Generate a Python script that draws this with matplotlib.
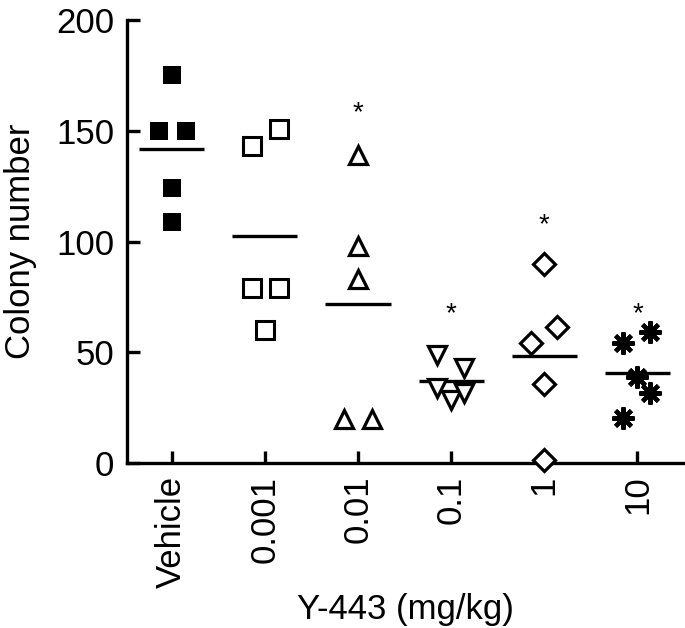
#!/usr/bin/env python3
"""Colony number vs Y-443 dose, scatter with group means."""
import matplotlib

matplotlib.use("Agg")
import matplotlib.pyplot as plt
import numpy as np

plt.rcParams["font.family"] = ["Liberation Sans", "DejaVu Sans"]

groups = ["Vehicle", "0.001", "0.01", "0.1", "1", "10"]

# per-group values and small horizontal jitter
vehicle = [175, 150, 150, 124, 109]
vehicle_dx = [0.0, -0.14, 0.15, 0.0, 0.0]
d0001 = [143, 151, 79, 79, 60]
d0001_dx = [-0.14, 0.15, -0.14, 0.15, 0.0]
d001 = [139, 98, 83, 20, 20]
d001_dx = [0.0, 0.0, 0.0, -0.15, 0.15]
d01 = [48.8, 42.7, 33.7, 28.4, 31.5]
d01_dx = [-0.15, 0.14, -0.15, 0.0, 0.14]
d1 = [90, 61.5, 54, 35.7, 1.4]
d1_dx = [0.0, 0.14, -0.14, 0.0, 0.0]
d10 = [54, 59.3, 38.7, 31.5, 20.2]
d10_dx = [-0.15, 0.14, 0.0, 0.14, -0.15]

star_groups = [2, 3, 4, 5]
star_y = [161.6, 70.9, 111.2, 70.9]

values = [vehicle, d0001, d001, d01, d1, d10]
offsets = [vehicle_dx, d0001_dx, d001_dx, d01_dx, d1_dx, d10_dx]
styles = [
    dict(marker="s", ms=13, mfc="black", mec="black", mew=0),
    dict(marker="s", ms=12.5, mfc="white", mec="black", mew=2.2),
    dict(marker="^", ms=12.5, mfc="white", mec="black", mew=2.3),
    dict(marker="v", ms=12.5, mfc="white", mec="black", mew=2.3),
    dict(marker="D", ms=11.5, mfc="white", mec="black", mew=2.3),
    dict(marker=(8, 2, 0), ms=16, mfc="black", mec="black", mew=3),
]

fig = plt.figure(figsize=(6.85, 6.28), dpi=100)
ax = fig.add_axes([0.1854, 0.2627, 0.8131, 0.7053])

for i, (vals, dx, st) in enumerate(zip(values, offsets, styles)):
    xs = i + np.array(dx)
    ax.plot(xs, vals, ls="none", clip_on=False, zorder=3, **st)
    m = np.mean(vals)
    ax.plot([i - 0.35, i + 0.35], [m, m], color="black", lw=2.4,
            solid_capstyle="butt", zorder=2)

for g, y in zip(star_groups, star_y):
    ax.annotate("*", (g, y), xytext=(0, -11), textcoords="offset points",
                ha="center", va="baseline", fontsize=20)

ax.set_xlim(-0.48, 5.5)
ax.set_ylim(0, 200)
ax.set_yticks([0, 50, 100, 150, 200])
ax.set_xticks(range(len(groups)))
ax.set_xticklabels(groups, rotation=90)
for s in ["top", "right"]:
    ax.spines[s].set_visible(False)
for s in ["left", "bottom"]:
    ax.spines[s].set_linewidth(2.4)
ax.tick_params(direction="in", length=9, width=2.4, labelsize=25, pad=9)
ax.set_ylabel("Colony number", fontsize=25, labelpad=14)
ax.set_xlabel("Y-443 (mg/kg)", fontsize=25, labelpad=4)

fig.savefig("out.png", dpi=100)
